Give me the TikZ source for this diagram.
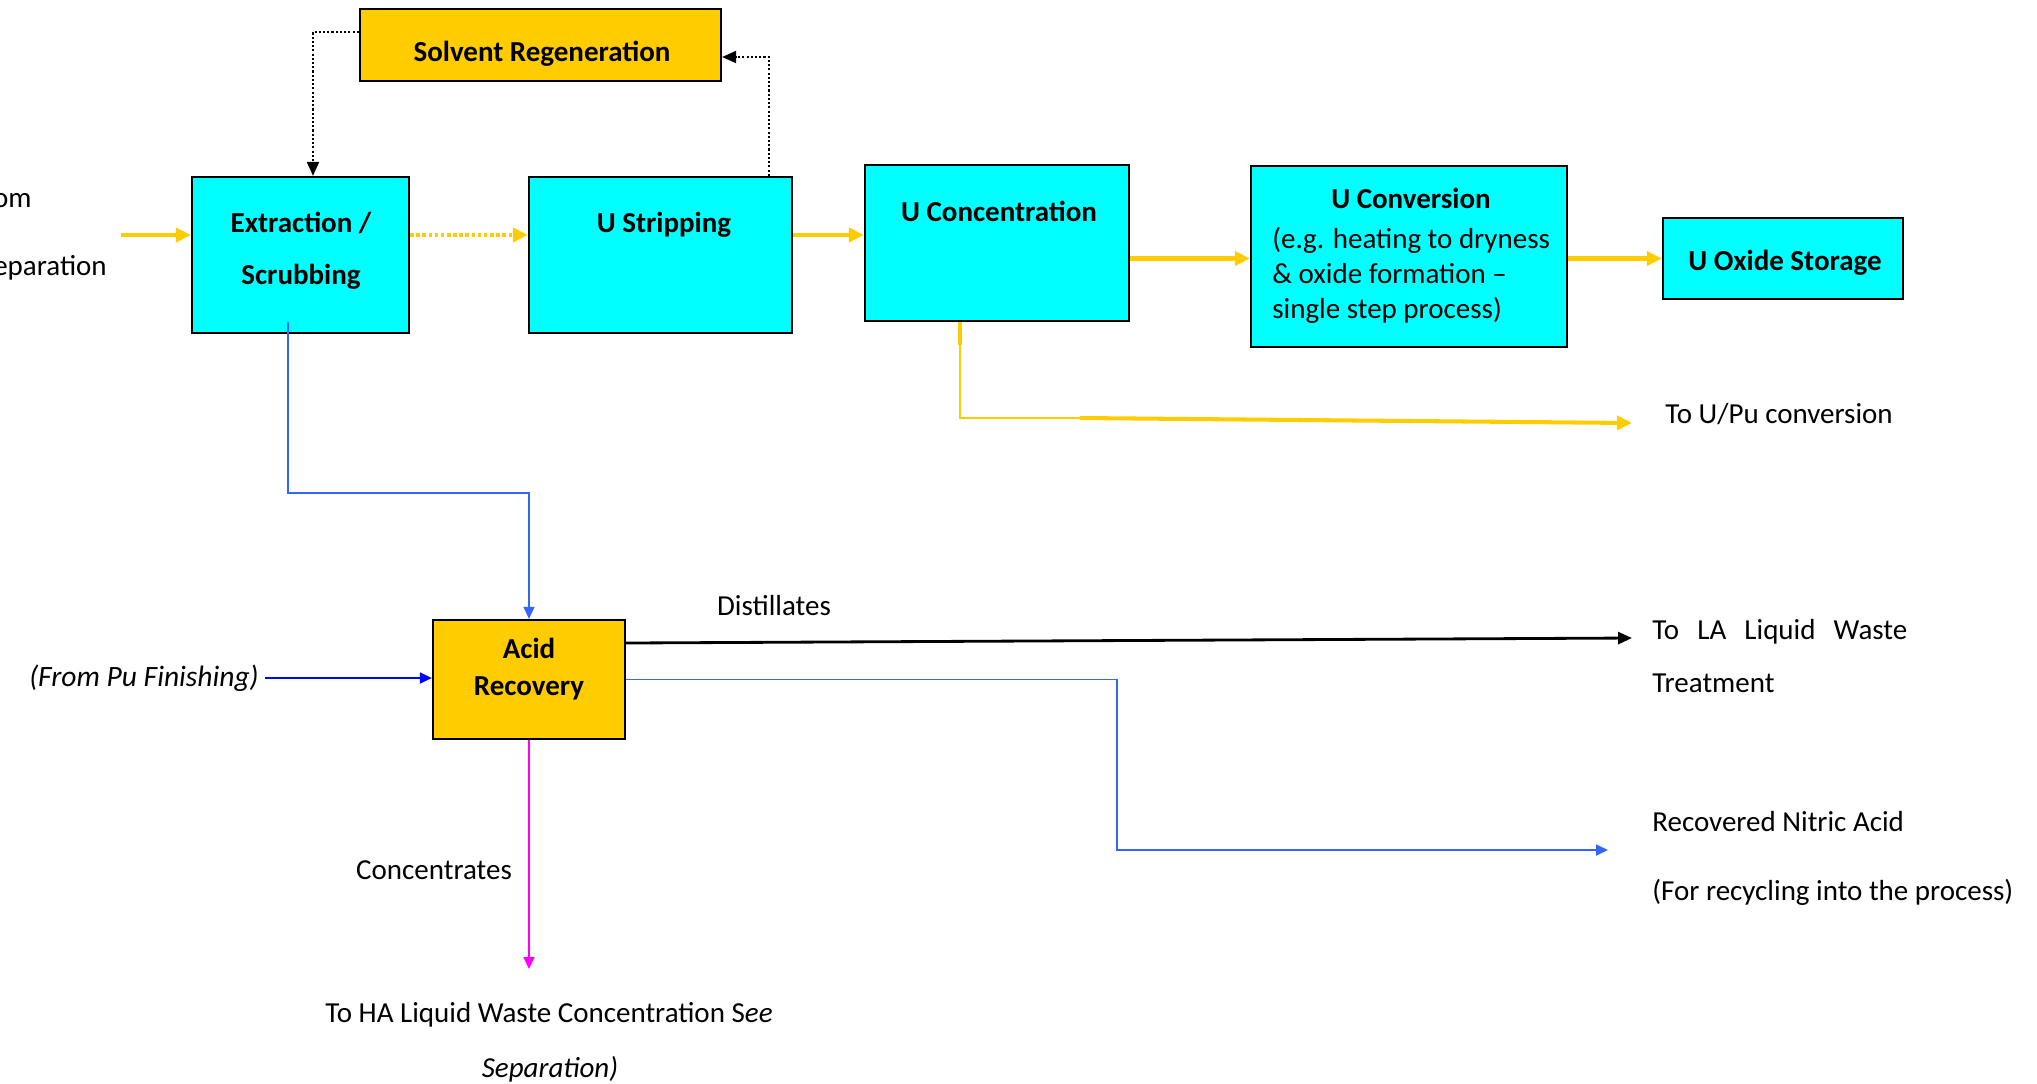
\documentclass[tikz,border=0pt]{standalone}
\usepackage{fontspec}
\setmainfont{Carlito}
\usetikzlibrary{arrows.meta,calc}

\definecolor{uyellow}{RGB}{255,204,0}
\definecolor{ucyan}{RGB}{0,255,255}
\definecolor{lblue}{RGB}{51,102,255}
\definecolor{dblue}{RGB}{0,0,255}
\definecolor{mag}{RGB}{255,0,255}

\begin{document}
\begin{tikzpicture}[x=0.02cm, y=-0.02cm,
    every node/.style={font=\fontsize{16.5}{20}\selectfont},
    procbox/.style={draw=black, line width=1.3pt, fill=ucyan, inner sep=0pt},
    recbox/.style={draw=black, line width=1.3pt, fill=uyellow, inner sep=0pt},
    boxtext/.style={font=\fontsize{16.5}{20}\selectfont\bfseries, align=center},
    lbl/.style={inner sep=0pt},
    yflow/.style={uyellow, line width=2.3pt, -{Triangle[length=0.3cm,width=0.28cm]}},
    regen/.style={black, line width=1.1pt, dash pattern=on 1.2pt off 1.2pt, -{Triangle[length=0.28cm,width=0.24cm]}},
    bflow/.style={line width=1pt, -{Triangle[length=0.24cm,width=0.22cm]}}
]
    \useasboundingbox (0,0) rectangle (2037,1083);

    % --- boxes ---
    \node[recbox, minimum width=7.22cm, minimum height=1.44cm] (solvent) at (540.5,45) {};
    \node[procbox, minimum width=4.34cm, minimum height=3.12cm] (extract) at (300.5,255) {};
    \node[procbox, minimum width=5.26cm, minimum height=3.12cm] (strip) at (660.5,255) {};
    \node[procbox, minimum width=5.28cm, minimum height=3.12cm] (conc) at (997,243) {};
    \node[procbox, minimum width=6.32cm, minimum height=3.62cm] (conv) at (1409,256.5) {};
    \node[procbox, minimum width=4.8cm, minimum height=1.62cm] (store) at (1783,258.5) {};
    \node[recbox, minimum width=3.84cm, minimum height=2.38cm] (acid) at (529,679.5) {};

    % --- box texts ---
    \node[boxtext] (solventtxt) at (542,54) {Solvent Regeneration};
    \node[boxtext] (extracttxt) at (301,251) {Extraction /\\[9.5pt]Scrubbing};
    \node[boxtext] (striptxt) at (664,225) {U Stripping};
    \node[boxtext] (conctxt) at (999,211) {U Concentration};
    \node[boxtext] (convtitle) at (1411,198) {U Conversion};
    \node[lbl, anchor=west, align=left] (convtxt) at (1272,275.5) {(e.g. heating to dryness\\\& oxide formation –\\single step process)};
    \node[boxtext] (storetxt) at (1785,263) {U Oxide Storage};
    \node[boxtext] (acidtxt) at (529,669) {Acid\\[1pt]Recovery};

    % --- free labels ---
    \node[lbl, anchor=east] (fromsep1) at (32,198) {From};
    \node[lbl, anchor=east] (fromsep2) at (107,268) {Separation};
    \node[lbl, anchor=west] (upu) at (1665,414) {To U/Pu conversion};
    \node[lbl] (distil) at (774,606) {Distillates};
    \node[anchor=east, font=\fontsize{16.8}{20}\selectfont\itshape] (pufin) at (265,678) {(From Pu Finishing)};
    \node[lbl, anchor=west, text width=5.1cm, align=justify, font=\fontsize{16.5}{30}\selectfont] (tola) at (1652,656) {To LA Liquid Waste Treatment};
    \node[lbl, anchor=west] (hno) at (1652,822) {Recovered Nitric Acid};
    \node[lbl, anchor=west] (hnorec) at (1652,892) {(For recycling into the process)};
    \node[lbl] (concs) at (434,870) {Concentrates};
    \node[lbl] (toha1) at (549,1015) {To HA Liquid Waste Concentration S\textit{ee}};
    \node[lbl] (toha2) at (550,1069) {\textit{Separation)}};

    % --- free ends ---
    \coordinate (feed) at (121,235);
    \coordinate (upuend) at (1632,423);
    \coordinate (laend) at (1632,638);
    \coordinate (hnoend) at (1608,850);
    \coordinate (haend) at (529,969);

    % --- uranium line ---
    \draw[yflow] (feed) -- (feed -| extract.west);
    \draw[yflow, dash pattern=on 2pt off 1.5pt] (feed -| extract.east) -- (feed -| strip.west);
    \draw[yflow] (feed -| strip.east) -- (feed -| conc.west);
    \draw[yflow] (store.west -| conc.east) -- (store.west -| conv.west);
    \draw[yflow] (conv.east |- store.west) -- (store.west);

    % --- U/Pu branch ---
    \draw[uyellow, line width=2.3pt] ($(conc.south)+(-37,0)$) -- ++(0,23);
    \draw[uyellow, line width=1.1pt] ($(conc.south)+(-37,0)$) |- ($(upuend)+(-552,-5)$);
    \draw[yflow] ($(upuend)+(-552,-5)$) -- (upuend);

    % --- solvent loop ---
    \draw[regen] ([yshift=0.26cm]solvent.west) -| ([xshift=0.25cm]extract.north);
    \draw[regen] ([xshift=2.17cm]strip.north) |- ([yshift=-0.24cm]solvent.east);

    % --- acid recovery ---
    \draw[lblue, bflow, line width=0.8pt] ([shift={(-0.25cm,0.24cm)}]extract.south) |- ($(acid.north)+(0,-126)$) -- (acid.north);
    \draw[dblue, bflow] (pufin.east) -- (pufin.east -| acid.west);
    \draw[black, line width=1.6pt, -{Triangle[length=0.28cm,width=0.24cm]}] ([yshift=0.73cm]acid.east) -- (laend);
    \draw[lblue, bflow] (acid.east) -| ($(hnoend)+(-491,0)$) -- (hnoend);
    \draw[mag, bflow] (acid.south) -- (haend);

\end{tikzpicture}
\end{document}
